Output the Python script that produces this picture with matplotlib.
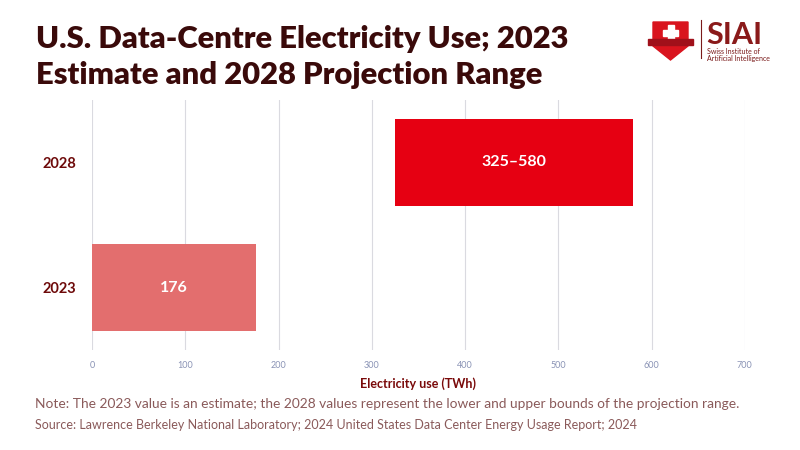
import matplotlib
matplotlib.use("Agg")
import matplotlib.pyplot as plt
from matplotlib.patches import Polygon, Rectangle

categories = ["2023", "2028"]
starts = [0, 325]
ends = [176, 580]
bar_labels = ["176", "325–580"]
bar_colors = ["#e36e6e", "#e60012"]
xticks = [0, 100, 200, 300, 400, 500, 600, 700]

plt.rcParams['font.family'] = ['Lato', 'DejaVu Sans']

fig = plt.figure(figsize=(8, 4.5), dpi=100)
fig.patch.set_facecolor("white")
ax = fig.add_axes([0.115, 0.222, 0.816, 0.556])

ypos = list(range(len(categories)))
widths = [e - s for s, e in zip(starts, ends)]
ax.barh(ypos, widths, left=starts, height=0.7, color=bar_colors, zorder=3)
for y, s, e, lab in zip(ypos, starts, ends, bar_labels):
    ax.text((s + e) / 2, y, lab, ha="center", va="center", color="white",
            fontsize=11.5, fontweight="bold", zorder=4)

ax.set_xlim(0, 700)
ax.set_ylim(-0.5, 1.5)
ax.set_xticks(xticks)
ax.set_xticklabels([str(t) for t in xticks], fontsize=6.5, color="#8a93b5")
ax.set_yticks(ypos)
ax.set_yticklabels(categories, fontsize=10.5, fontweight="bold", color="#6e0a0a")
ax.tick_params(axis="both", length=0)
ax.tick_params(axis="x", pad=8)
ax.tick_params(axis="y", pad=11)
ax.grid(axis="x", color="#dadae0", linewidth=0.8, zorder=0)
for sp in ax.spines.values():
    sp.set_visible(False)
ax.set_xlabel("Electricity use (TWh)", fontsize=9, fontweight="bold",
              color="#7a0a0a", labelpad=5)

fig.text(0.045, 0.944, "U.S. Data-Centre Electricity Use; 2023\nEstimate and 2028 Projection Range",
         ha="left", va="top", fontsize=22.3, fontweight="heavy", color="#3a0a0a",
         linespacing=1.33)

fig.text(0.044, 0.103, "Note: The 2023 value is an estimate; the 2028 values represent the lower and upper bounds of the projection range.",
         ha="left", va="center", fontsize=9.9, color="#8a5a5a")
fig.text(0.044, 0.055, "Source: Lawrence Berkeley National Laboratory; 2024 United States Data Center Energy Usage Report; 2024",
         ha="left", va="center", fontsize=9.0, color="#8a5a5a")

# logo (pixel coordinates)
lax = fig.add_axes([0.8, 1 - 70 / 450, 0.175, 60 / 450])
lax.set_xlim(640, 780)
lax.set_ylim(70, 10)
lax.axis("off")
shield = Polygon([[653, 22], [688, 22], [688, 46], [670.5, 60], [653, 46]],
                 closed=True, color="#d9141e")
lax.add_patch(shield)
lax.add_patch(Rectangle((667.5, 25), 6, 15, color="white"))
lax.add_patch(Rectangle((663, 29.5), 15, 6, color="white"))
lax.add_patch(Rectangle((648, 39), 45, 6, color="#a0101a"))
lax.plot([701, 701], [20, 58], color="#7a1a1a", lw=0.8)
lax.text(706, 44, "SIAI", fontsize=22, fontweight="bold", color="#8a1a1a",
         va="baseline", ha="left")
lax.text(707, 47.5, "Swiss Institute of\nArtificial Intelligence", fontsize=5, color="#7a1a1a",
         va="top", ha="left", linespacing=1.0)

fig.savefig("out.png", dpi=100)
